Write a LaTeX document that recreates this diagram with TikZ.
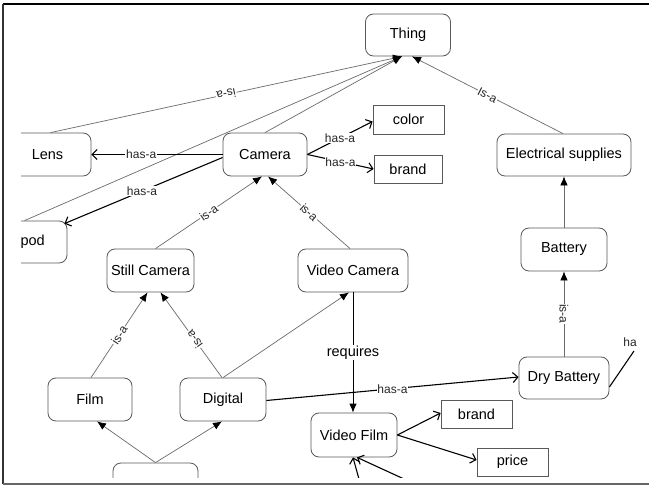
\documentclass[tikz,border=0pt]{standalone}
\usepackage{fontspec}
\setmainfont{Liberation Sans}
\usetikzlibrary{arrows.meta}
\begin{document}
\begin{tikzpicture}[x=1pt,y=-1pt,
  concept/.style={draw=black!65, line width=0.8pt, rounded corners=8pt, fill=white,
    font=\fontsize{14.5}{17}\selectfont, inner sep=0pt, minimum height=42pt},
  attr/.style={draw=black!65, line width=0.8pt, fill=white,
    font=\fontsize{14.5}{17}\selectfont, inner sep=0pt, minimum height=28pt},
  isa/.style={draw=black!58, line width=0.7pt, -{Latex[length=9pt,width=7.5pt,color=black]}},
  hasa/.style={draw=black, line width=1.1pt, -{Straight Barb[length=5pt,width=10pt]}},
  plainline/.style={draw=black, line width=1.1pt},
  lbl/.style={fill=white, inner sep=0.8pt, font=\fontsize{12}{14}\selectfont, text=black!85},
  biglbl/.style={fill=white, inner sep=1pt, font=\fontsize{14.5}{17}\selectfont}]
\useasboundingbox (0,0) rectangle (649,487);
\fill[white] (0,0) rectangle (649,487);
\begin{scope}
\clip (21,5) rectangle (639,477);
% nodes
\node[concept, minimum width=85pt] (thing) at (408,35) {Thing};
\node[concept, minimum width=84pt, minimum height=43pt] (camera) at (265,154.5) {Camera};
\node[concept, minimum width=87pt, minimum height=43pt] (lens) at (47.5,154.5) {Lens};
\node[concept, minimum width=85pt] (tripod) at (24.5,242) {\phantom{Tri}pod};
\node[concept, minimum width=87pt, minimum height=43pt] (still) at (150.5,270.5) {Still Camera};
\node[concept, minimum width=110pt, minimum height=43pt] (video) at (353,270.5) {Video Camera};
\node[concept, minimum width=84pt, minimum height=43pt] (film) at (90,399.5) {Film};
\node[concept, minimum width=86pt, minimum height=43pt] (digital) at (223,399.5) {Digital};
\node[concept, minimum width=85pt] (bottom) at (155.5,484) {};
\node[concept, minimum width=86pt, minimum height=44pt] (vfilm) at (354,435) {Video Film};
\node[attr, minimum width=71pt] (brandb) at (476.5,414) {brand};
\node[attr, minimum width=71pt] (price) at (512.5,462) {price};
\node[concept, minimum width=90pt] (dry) at (564,378) {Dry Battery};
\node[concept, minimum width=86pt, minimum height=43pt] (battery) at (564,249.5) {Battery};
\node[concept, minimum width=134pt] (elec) at (564,155) {Electrical supplies};
\node[attr, minimum width=71pt, minimum height=29pt] (color) at (408.5,119.5) {color};
\node[attr, minimum width=68pt] (brandt) at (408,169) {brand};
% is-a edges to Thing
\draw[isa] ([xshift=3pt]lens.north) -- node[lbl, pos=0.5, rotate=192] {is-a} ([xshift=-6pt]thing.south);
\draw[isa] (camera.north) -- ([xshift=-6pt]thing.south);
\draw[isa] (tripod.north) -- ([xshift=-6pt]thing.south);
\draw[isa] ([xshift=-1pt]elec.north) -- node[lbl, pos=0.5, rotate=-27] {Is-a} ([xshift=4pt]thing.south);
% has-a from Camera
\draw[hasa] (camera.west) -- node[lbl, pos=0.62] {has-a} (lens.east);
\draw[hasa] ([yshift=-3pt]camera.west) -- node[lbl, pos=0.51] {has-a} ([shift={(-3pt,-3pt)}]tripod.north east);
\draw[hasa] (camera.east) -- node[lbl, pos=0.5] {has-a} ([yshift=-2pt]color.west);
\draw[hasa] (camera.east) -- node[lbl, pos=0.5] {has-a} (brandt.west);
% is-a to Camera
\draw[isa] ([xshift=5pt]still.north) -- node[lbl, pos=0.5, rotate=35] {is-a} ([xshift=-3pt]camera.south);
\draw[isa] ([xshift=-3pt]video.north) -- node[lbl, pos=0.5, rotate=-43] {is-a} ([xshift=3pt]camera.south);
% is-a to Still Camera
\draw[isa] ([xshift=1pt]film.north) -- node[lbl, pos=0.5, rotate=57] {is-a} ([xshift=-3pt]still.south);
\draw[isa] ([xshift=-1pt]digital.north) -- node[lbl, pos=0.45, rotate=126] {is-a} ([xshift=10pt]still.south);
\draw[isa] (digital.north) -- ([xshift=-4pt]video.south);
% bottom node
\draw[isa] (bottom.north) -- ([xshift=7pt]film.south);
\draw[isa] (bottom.north) -- ([xshift=-1pt]digital.south);
% requires
\draw[draw=black, line width=0.8pt, -{Latex[length=9pt,width=7.5pt]}] (video.south) -- node[biglbl, pos=0.5] {requires} (video.south |- vfilm.north);
% Digital has-a Dry Battery
\draw[hasa] ([yshift=-1pt]digital.east) -- node[lbl, pos=0.5] {has-a} ([yshift=1pt]dry.west);
% Video Film attributes
\draw[hasa] (vfilm.east) -- ([yshift=1pt]brandb.west);
\draw[hasa] (vfilm.east) -- ([yshift=2pt]price.west);
\coordinate (vfa) at (362,490);
\coordinate (vfb) at (428,490);
\draw[hasa] (vfa) -- ([xshift=-1pt]vfilm.south);
\draw[hasa] (vfb) -- ([xshift=3pt]vfilm.south);
% battery chain
\draw[isa] (dry.north) -- node[lbl, pos=0.5, rotate=-90] {is-a} (battery.south);
\draw[isa] (battery.north) -- (elec.south);
% Dry Battery outgoing
\coordinate (haend) at (634,351);
\draw[plainline] ([yshift=-9pt]dry.east) -- (haend);
\node[lbl, fill=none] (ha) at (630,342.5) {ha};
\end{scope}
% frame
\draw[black, line width=2pt] (3,4) -- (649,4);
\draw[black!80, line width=1.6pt] (3,4) -- (3,484);
\draw[black!60, line width=2pt] (3,484) -- (649,484);
\end{tikzpicture}
\end{document}
